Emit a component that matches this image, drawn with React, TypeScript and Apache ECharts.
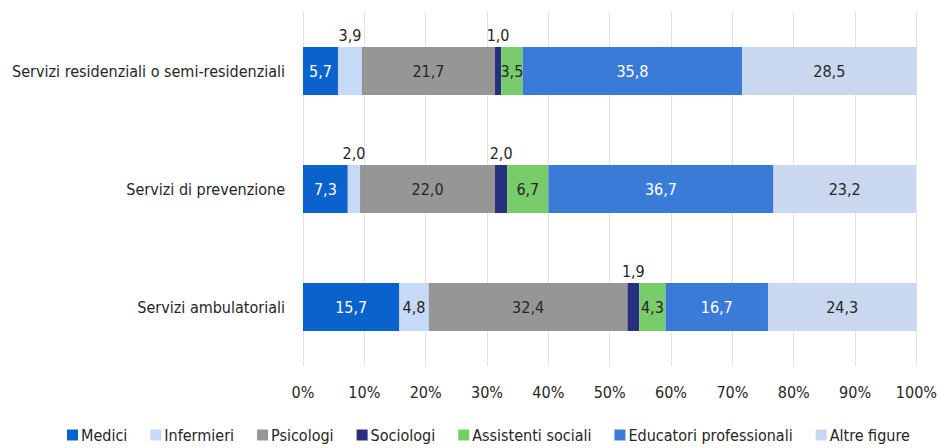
import React, { useEffect, useRef } from "react";
import * as echarts from "echarts";

const categories = [
  "Servizi ambulatoriali",
  "Servizi di prevenzione",
  "Servizi residenziali o semi-residenziali",
];

const seriesNames = [
  "Medici",
  "Infermieri",
  "Psicologi",
  "Sociologi",
  "Assistenti sociali",
  "Educatori professionali",
  "Altre figure",
];

// values per category in order: ambulatoriali, prevenzione, residenziali
const medici = [15.7, 7.3, 5.7];
const infermieri = [4.8, 2.0, 3.9];
const psicologi = [32.4, 22.0, 21.7];
const sociologi = [1.9, 2.0, 1.0];
const assistenti = [4.3, 6.7, 3.5];
const educatori = [16.7, 36.7, 35.8];
const altre = [24.3, 23.2, 28.5];

const allValues = [medici, infermieri, psicologi, sociologi, assistenti, educatori, altre];

const colors = ["#0a62cc", "#c6d9f7", "#969696", "#27307e", "#78cc6a", "#3b7bd8", "#c9d8ee"];
const labelColors = ["#ffffff", "#262626", "#262626", "#262626", "#262626", "#ffffff", "#262626"];

const FONT = "'Liberation Sans Narrow', 'DejaVu Sans Condensed', 'Arial Narrow', sans-serif";

const fmt = (v: number) => v.toFixed(1).replace(".", ",");

export default function App() {
  const ref = useRef<HTMLDivElement>(null);
  useEffect(() => {
    if (!ref.current) return;
    const chart = echarts.init(ref.current, undefined, { renderer: "svg" });
    const series = allValues.map((vals, si) => ({
      name: seriesNames[si],
      type: "bar",
      stack: "total",
      barWidth: 48,
      itemStyle: { color: colors[si] },
      label: {
        show: true,
        position: "inside",
        color: labelColors[si],
        fontFamily: FONT,
        fontSize: 16,
        formatter: (p: any) => fmt(p.value),
      },
      data: vals.map((v) =>
        v <= 4 && (si === 1 || si === 3)
          ? { value: v, label: { position: "top", color: "#262626", distance: 4 } }
          : v
      ),
    }));
    chart.setOption({
      animation: false,
      backgroundColor: "#ffffff",
      textStyle: { fontFamily: FONT },
      grid: { left: 303, right: 22, top: 12, bottom: 82, containLabel: false },
      xAxis: {
        type: "value",
        min: 0,
        max: 100,
        interval: 10,
        axisLine: { show: false },
        axisTick: { show: false },
        axisLabel: {
          formatter: (v: number) => v + "%",
          color: "#262626",
          fontFamily: FONT,
          fontSize: 16,
          margin: 18,
        },
        splitLine: { show: true, lineStyle: { color: "#e3e3e3", width: 1 } },
      },
      yAxis: {
        type: "category",
        data: categories,
        axisLine: { show: false },
        axisTick: { show: false },
        axisLabel: {
          color: "#262626",
          fontFamily: FONT,
          fontSize: 16,
          margin: 18,
        },
      },
      legend: {
        bottom: 0,
        left: 62,
        itemWidth: 11,
        itemHeight: 11,
        itemGap: 23,
        icon: "rect",
        textStyle: { color: "#262626", fontFamily: FONT, fontSize: 16, padding: [0, 0, 0, -2] },
        data: seriesNames,
      },
      series,
    });
    return () => chart.dispose();
  }, []);
  return (
    <div
      ref={ref}
      style={{ position: "absolute", left: 0, top: 0, width: 940, height: 448 }}
    />
  );
}
